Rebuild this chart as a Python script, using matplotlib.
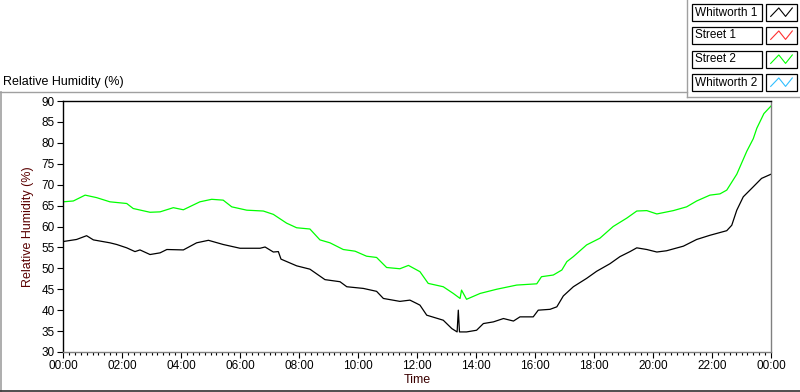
import matplotlib
matplotlib.use("Agg")
import matplotlib.pyplot as plt
from matplotlib.patches import Rectangle
from matplotlib.lines import Line2D
from matplotlib.ticker import MultipleLocator, FuncFormatter

plt.rcParams["font.family"] = ["Liberation Sans", "DejaVu Sans"]

# time in hours since midnight, relative humidity in %
w1_hours = [0.0, 0.46, 0.80, 1.03, 1.59, 1.82, 2.16, 2.44, 2.61, 2.95, 3.29, 3.52,
            4.08, 4.53, 4.93, 5.43, 6.00, 6.68, 6.85, 7.13, 7.30, 7.39, 7.92, 8.37,
            8.88, 9.39, 9.62, 10.18, 10.63, 10.86, 11.42, 11.76, 11.99, 12.10, 12.33,
            12.89, 13.18, 13.36, 13.40, 13.44, 13.68, 14.02, 14.25, 14.59, 14.93,
            15.27, 15.49, 15.94, 16.11, 16.51, 16.74, 16.96, 17.30, 17.75, 18.09,
            18.54, 18.88, 19.22, 19.45, 19.79, 20.13, 20.46, 21.03, 21.48, 21.93,
            22.50, 22.67, 22.84, 23.06, 23.40, 23.68, 24.0]
w1_rh = [56.4, 56.9, 57.8, 56.8, 56.1, 55.7, 54.9, 54.0, 54.4, 53.3, 53.7, 54.5,
         54.4, 56.1, 56.7, 55.7, 54.8, 54.8, 55.1, 53.9, 54.0, 52.2, 50.6, 49.8,
         47.3, 46.8, 45.6, 45.2, 44.5, 42.8, 42.1, 42.4, 41.6, 41.2, 38.8,
         37.6, 35.6, 34.8, 40.0, 34.8, 34.8, 35.2, 36.8, 37.2, 38.0,
         37.4, 38.4, 38.4, 40.0, 40.2, 40.8, 43.4, 45.6, 47.6, 49.3,
         51.1, 52.8, 54.0, 54.9, 54.5, 53.9, 54.2, 55.3, 56.9, 57.9,
         59.0, 60.3, 63.9, 67.1, 69.5, 71.5, 72.5]

s2_hours = [0.0, 0.35, 0.75, 1.14, 1.59, 2.16, 2.38, 2.95, 3.29, 3.74, 4.08, 4.64,
            5.04, 5.43, 5.72, 6.23, 6.79, 7.13, 7.58, 7.92, 8.37, 8.71, 9.05, 9.50,
            9.90, 10.29, 10.63, 10.97, 11.42, 11.71, 12.10, 12.38, 12.89, 13.23,
            13.46, 13.51, 13.68, 14.14, 14.70, 15.38, 16.06, 16.22, 16.62, 16.91,
            17.08, 17.30, 17.75, 18.20, 18.65, 19.11, 19.45, 19.79, 20.13, 20.69,
            21.14, 21.48, 21.93, 22.27, 22.50, 22.84, 23.18, 23.40, 23.52, 23.76, 24.0]
s2_rh = [65.9, 66.1, 67.5, 66.9, 65.9, 65.5, 64.3, 63.4, 63.5, 64.5, 64.0, 65.9,
         66.5, 66.3, 64.7, 63.9, 63.7, 62.9, 60.8, 59.7, 59.4, 56.8, 56.1, 54.5,
         54.1, 52.9, 52.6, 50.2, 49.9, 50.7, 49.2, 46.4, 45.6, 44.0,
         42.8, 44.8, 42.6, 44.0, 45.0, 46.0, 46.3, 48.0, 48.4, 49.6,
         51.6, 52.8, 55.6, 57.2, 60.0, 62.0, 63.7, 63.8, 63.0, 63.8,
         64.7, 66.1, 67.5, 67.8, 68.7, 72.5, 78.0, 81.0, 83.5, 87.0, 88.8]

legend_names = ["Whitworth 1", "Street 1", "Street 2", "Whitworth 2"]
legend_colors = ["#000000", "#ff3030", "#00ff00", "#30bfff"]

W, H = 800, 392


def fx(x):
    return x / W


def fy(y):
    return 1 - y / H


fig = plt.figure(figsize=(8, 3.92), dpi=100)
fig.patch.set_facecolor("white")

ax = fig.add_axes([fx(63), fy(352), fx(771) - fx(63), fy(101) - fy(352)])
ax.plot(w1_hours, w1_rh, color=legend_colors[0], lw=0.9)
ax.plot(s2_hours, s2_rh, color=legend_colors[2], lw=0.9)

ax.set_xlim(0, 24)
ax.set_ylim(30, 90)
ax.xaxis.set_major_locator(MultipleLocator(2))
ax.xaxis.set_minor_locator(MultipleLocator(0.2))
ax.yaxis.set_major_locator(MultipleLocator(5))
ax.xaxis.set_major_formatter(FuncFormatter(lambda v, p: "%02d:00" % (int(round(v)) % 24)))
ax.tick_params(axis="both", which="major", direction="out", length=4, width=0.8,
               labelsize=8.5, colors="black", pad=2)
ax.tick_params(axis="x", which="minor", direction="out", length=2.5, width=0.8)
ax.spines["top"].set_color("black")
ax.spines["left"].set_color("black")
ax.spines["bottom"].set_color("#808080")
ax.spines["right"].set_color("#808080")
for s in ax.spines.values():
    s.set_linewidth(1.0)

ax.set_xlabel("Time", fontsize=9, color="#3a0000", labelpad=1)
ax.set_ylabel("Relative Humidity (%)", fontsize=9, color="#5a0000", labelpad=5)

# graph caption and outer frame
fig.text(fx(3), fy(82), "Relative Humidity (%)", fontsize=9, color="black", va="center")
fig.add_artist(Line2D([fx(0), fx(687)], [fy(92), fy(92)], color="#a0a0a0", lw=1))
fig.add_artist(Line2D([fx(1), fx(1)], [fy(92), fy(391)], color="#a0a0a0", lw=1.2))
fig.add_artist(Line2D([fx(0), fx(800)], [fy(391), fy(391)], color="#303030", lw=1.2))
fig.add_artist(Line2D([fx(687), fx(687)], [fy(0), fy(97)], color="#a0a0a0", lw=1))
fig.add_artist(Line2D([fx(687), fx(800)], [fy(97), fy(97)], color="#a0a0a0", lw=1))

# legend boxes
row_top = [4, 27, 51, 74]
for i, name in enumerate(legend_names):
    t = row_top[i]
    fig.add_artist(Rectangle((fx(692), fy(t + 17)), fx(762) - fx(692), fy(t) - fy(t + 17),
                             fill=False, edgecolor="black", lw=0.9))
    fig.text(fx(695), fy(t + 8.5), name, fontsize=8.5, va="center", ha="left")
    fig.add_artist(Rectangle((fx(766), fy(t + 17)), fx(797) - fx(766), fy(t) - fy(t + 17),
                             fill=False, edgecolor="black", lw=0.9))
    sym = fig.add_axes([fx(768), fy(t + 15), fx(795) - fx(768), fy(t + 2) - fy(t + 15)])
    sym.plot([0.1, 0.4, 0.65, 0.9], [0.2, 0.85, 0.2, 0.85], color=legend_colors[i], lw=0.8)
    sym.set_xlim(0, 1)
    sym.set_ylim(0, 1)
    sym.axis("off")

fig.savefig("out.png", dpi=100)
